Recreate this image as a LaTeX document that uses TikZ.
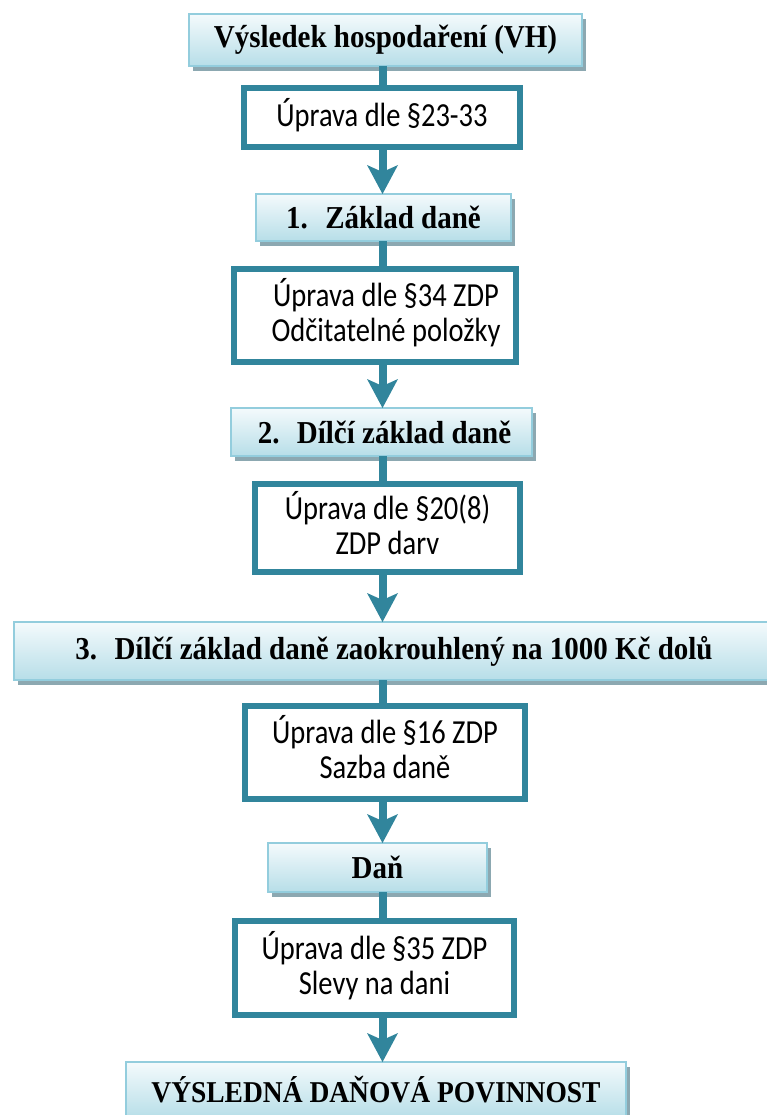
\documentclass[tikz,border=0pt]{standalone}
\usepackage{graphicx}
\usepackage{fontspec}
\setmainfont{Liberation Serif}
\newfontfamily\calfont{Carlito}
\usetikzlibrary{arrows.meta,shadows}
\definecolor{teal}{RGB}{49,133,156}
\definecolor{lborder}{RGB}{147,205,221}
\definecolor{gtop}{RGB}{244,250,252}
\definecolor{gbot}{RGB}{183,222,232}
\definecolor{shadowc}{RGB}{140,168,177}
\newcommand\ttl[1]{\scalebox{1}[1.1]{#1}}
\newcommand\upr[1]{\scalebox{1}[1.18]{\begin{tabular}{@{}c@{}}#1\end{tabular}}}
\tikzset{
  lbox/.style={draw=lborder, line width=2pt, top color=gtop, bottom color=gbot,
    outer sep=0pt, inner sep=0pt, align=center,
    font=\fontsize{29}{35}\selectfont\bfseries,
    drop shadow={shadow xshift=4pt, shadow yshift=-5pt, fill=shadowc, opacity=1}},
  ubox/.style={draw=teal, line width=6pt, fill=white, outer sep=0pt, inner sep=0pt,
    align=center, font=\calfont\fontsize{28.5}{30}\selectfont},
  stem/.style={draw=teal, line width=8pt},
  arr/.style={stem, -{Stealth[length=29pt,width=31pt,inset=7pt,line width=0pt]}}
}
\begin{document}
\begin{tikzpicture}[x=1pt,y=-1pt]
\useasboundingbox (0,0) rectangle (766,1115);
\coordinate (ax) at (382.5,0);
\node[lbox, minimum width=393pt, minimum height=52pt] (A) at (385.5,40) {\ttl{Výsledek hospodaření (VH)}};
\node[ubox, minimum width=276pt, minimum height=59pt] (B) at (382,117.5) {\upr{Úprava dle §23-33}};
\node[lbox, minimum width=255pt, minimum height=47pt] (C) at (383.5,217.5) {\ttl{1.\hspace{0.6em}Základ daně}};
\node[ubox, minimum width=282pt, minimum height=93pt] (D) at (375,315.5) {\hspace*{22pt}\upr{Úprava dle §34 ZDP\\Odčitatelné položky}};
\node[lbox, minimum width=301pt, minimum height=48pt] (E) at (381.5,432) {\hspace*{6pt}\ttl{2.\hspace{0.6em}Dílčí základ daně}};
\node[ubox, minimum width=265pt, minimum height=88pt] (F) at (387.5,528) {\upr{Úprava dle §20(8)\\ZDP darv}};
\node[lbox, minimum width=760pt, minimum height=58pt] (G) at (394,651) {\ttl{3.\hspace{0.6em}Dílčí základ daně zaokrouhlený na 1000 Kč dolů}};
\node[ubox, minimum width=280pt, minimum height=93pt] (H) at (385,752.5) {\upr{Úprava dle §16 ZDP\\Sazba daně}};
\node[lbox, minimum width=219pt, minimum height=49pt] (I) at (377.5,867.5) {\ttl{Daň}};
\node[ubox, minimum width=279pt, minimum height=94pt] (J) at (374.5,968) {\upr{Úprava dle §35 ZDP\\Slevy na dani}};
\node[lbox, minimum width=500pt, minimum height=56pt, font=\fontsize{27.5}{33}\selectfont\bfseries] (K) at (376,1090) {\ttl{VÝSLEDNÁ DAŇOVÁ POVINNOST}};
\draw[stem] (A.south -| ax) -- (B.north -| ax);
\draw[arr] (B.south -| ax) -- (C.north -| ax);
\draw[stem] (C.south -| ax) -- (D.north -| ax);
\draw[arr] (D.south -| ax) -- (E.north -| ax);
\draw[stem] (E.south -| ax) -- (F.north -| ax);
\draw[arr] (F.south -| ax) -- (G.north -| ax);
\draw[stem] (G.south -| ax) -- (H.north -| ax);
\draw[arr] (H.south -| ax) -- (I.north -| ax);
\draw[stem] (I.south -| ax) -- (J.north -| ax);
\draw[arr] (J.south -| ax) -- (K.north -| ax);
\end{tikzpicture}
\end{document}
